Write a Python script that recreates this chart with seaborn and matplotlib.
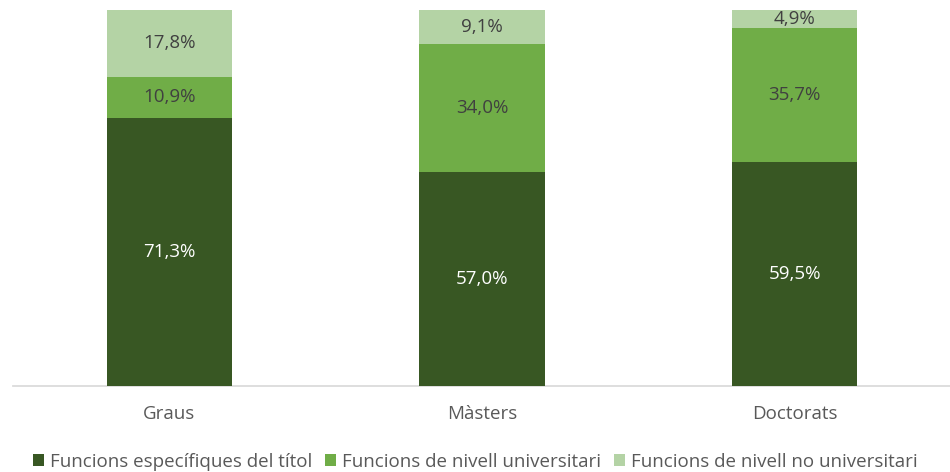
import matplotlib
matplotlib.use("Agg")
import matplotlib.pyplot as plt
import seaborn as sns
import pandas as pd
import numpy as np
from matplotlib.patches import Patch

categories = ["Graus", "Màsters", "Doctorats"]
series_names = ["Funcions específiques del títol", "Funcions de nivell universitari", "Funcions de nivell no universitari"]
especifiques = [71.3, 57.0, 59.5]
universitari = [10.9, 34.0, 35.7]
no_universitari = [17.8, 9.1, 4.9]

colors = ["#385723", "#70AD47", "#B4D3A5"]
text_colors = ["white", "#404040", "#404040"]

sns.set_theme(style="white")
plt.rcParams["font.family"] = ["Open Sans", "DejaVu Sans"]

fig = plt.figure(figsize=(9.5, 4.72), dpi=100)
ax = fig.add_axes([13/950, 1-386/472, 938/950, 376/472])

df = pd.DataFrame({"cat": categories, "a": especifiques, "b": universitari, "c": no_universitari})
bottoms = np.zeros(len(categories))
for k, (col, name, color, tc) in enumerate(zip(["a", "b", "c"], series_names, colors, text_colors)):
    vals = df[col].to_numpy()
    sns.barplot(x=df["cat"], y=vals + bottoms, color=color, width=0.4, ax=ax,
                saturation=1, zorder=10 - k, linewidth=0, edgecolor="none")
    for i, v in enumerate(vals):
        ax.text(i, bottoms[i] + v / 2, f"{v:.1f}%".replace(".", ","), ha="center", va="center",
                color=tc, fontsize=13.5, zorder=20)
    bottoms = bottoms + vals

ax.set_ylim(0, 100)
ax.set_xlim(-0.5, 2.5)
ax.set_xlabel("")
ax.set_ylabel("")
ax.set_yticks([])
for s in ["top", "right", "left"]:
    ax.spines[s].set_visible(False)
ax.spines["bottom"].set_color("#D9D9D9")
ax.tick_params(axis="x", length=0, labelsize=13.5, colors="#595959", pad=14)

h = [Patch(facecolor=c, edgecolor="none") for c in colors]
if ax.get_legend():
    ax.get_legend().remove()
fig.legend(h, series_names, loc="center", bbox_to_anchor=(0.5, 1-462/472), ncol=3, frameon=False,
           fontsize=13.5, handlelength=0.6, handleheight=0.6, handletextpad=0.3, columnspacing=0.7,
           labelcolor="#595959")

fig.savefig("out.png", dpi=100)
